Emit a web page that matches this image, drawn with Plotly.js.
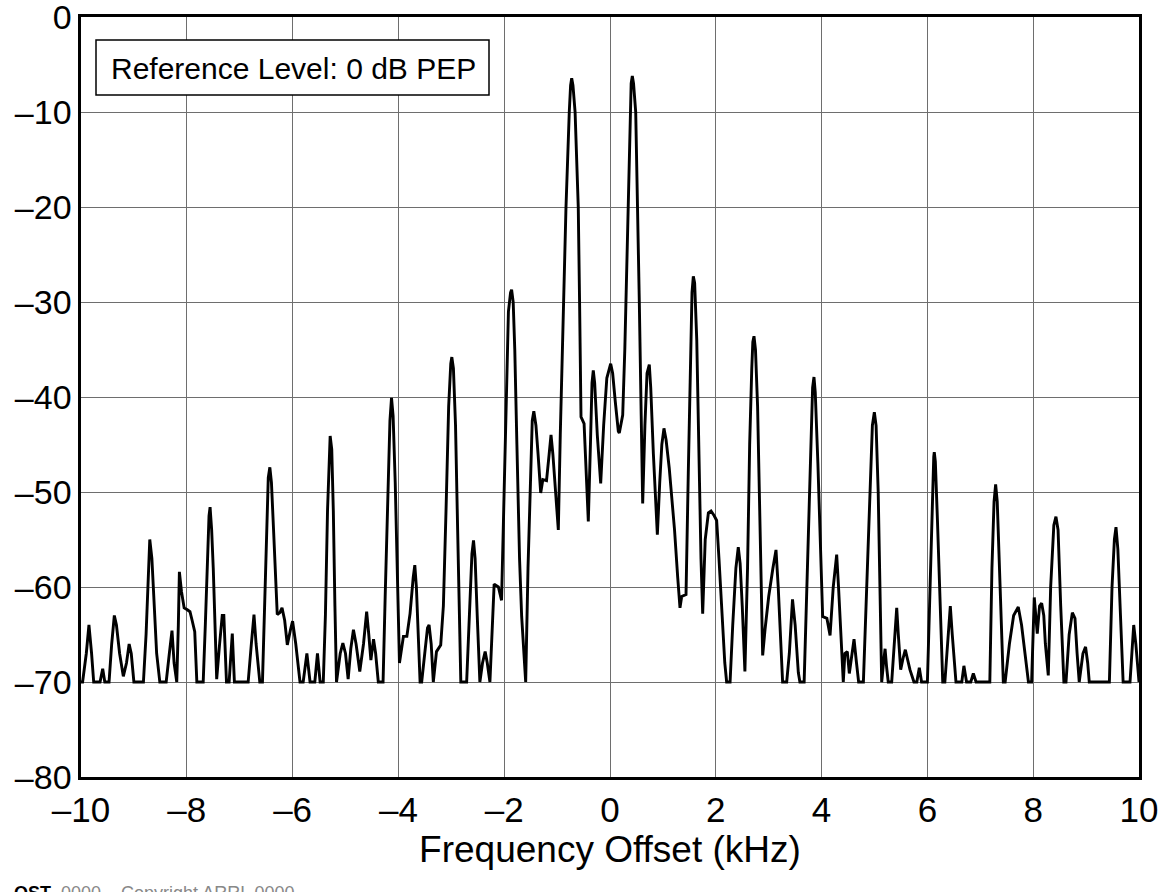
<!DOCTYPE html>
<html>
<head>
<meta charset="utf-8">
<script src="https://cdn.plot.ly/plotly-3.0.1.min.js"></script>
<style>html,body{margin:0;padding:0;background:#fff;}#chart{width:1171px;height:892px;}</style>
</head>
<body>
<div id="chart"></div>
<script>
// Frequency offset (kHz)
const freqKHz = [
-10.0,-9.97,-9.90,-9.85,-9.80,-9.76,-9.64,-9.59,-9.55,-9.47,-9.42,-9.37,-9.33,-9.27,-9.20,-9.14,-9.09,-9.05,-9.00,
-8.82,-8.77,-8.73,-8.70,-8.66,-8.62,-8.57,-8.51,-8.39,-8.33,-8.28,-8.24,-8.19,-8.16,-8.14,-8.10,-8.05,-7.99,-7.94,-7.90,-7.85,-7.81,
-7.69,-7.65,-7.61,-7.58,-7.56,-7.53,-7.50,-7.47,-7.435,-7.38,-7.33,-7.30,-7.27,-7.25,-7.20,-7.14,-7.10,
-6.84,-6.78,-6.73,-6.69,-6.62,-6.57,-6.53,-6.49,-6.46,-6.43,-6.40,-6.36,-6.32,-6.29,-6.24,-6.20,-6.15,-6.10,-6.04,-6.00,-5.94,-5.86,
-5.80,-5.73,-5.67,-5.58,-5.53,-5.48,-5.42,-5.38,-5.34,-5.31,-5.29,-5.26,-5.23,-5.20,-5.17,-5.10,-5.05,-5.00,-4.95,-4.90,-4.85,-4.80,
-4.73,-4.66,-4.60,-4.56,-4.52,-4.47,-4.43,-4.38,-4.29,-4.25,-4.20,-4.16,-4.13,-4.10,-4.06,-4.02,-3.98,-3.94,-3.905,-3.84,-3.78,-3.72,
-3.69,-3.66,-3.62,-3.59,-3.56,-3.50,-3.45,-3.42,-3.38,-3.34,-3.28,-3.20,-3.15,-3.10,-3.05,-3.01,-2.99,-2.96,-2.92,-2.88,-2.84,-2.82,
-2.71,-2.66,-2.61,-2.58,-2.55,-2.51,-2.46,-2.41,-2.36,-2.32,-2.27,-2.19,-2.11,-2.05,-2.00,-1.96,-1.92,-1.88,-1.86,-1.83,-1.80,-1.76,
-1.71,-1.67,-1.594,-1.55,-1.51,-1.47,-1.44,-1.40,-1.36,-1.31,-1.27,-1.20,-1.15,-1.115,-1.08,-1.04,-0.977,-0.94,-0.90,-0.87,-0.832,
-0.77,-0.745,-0.724,-0.70,-0.66,-0.60,-0.575,-0.565,-0.548,-0.49,-0.41,-0.37,-0.34,-0.316,-0.29,-0.24,-0.176,-0.12,-0.06,0.013,0.05,
0.10,0.157,0.176,0.24,0.28,0.302,0.334,0.378,0.40,0.422,0.445,0.486,0.523,0.554,0.59,0.618,0.66,0.70,0.743,0.77,0.82,0.895,0.94,
0.98,1.02,1.06,1.12,1.166,1.22,1.28,1.323,1.355,1.437,1.48,1.52,1.55,1.575,1.60,1.64,1.68,1.72,1.752,1.80,1.86,1.91,1.97,2.016,
2.06,2.12,2.17,2.205,2.27,2.32,2.38,2.425,2.46,2.50,2.55,2.60,2.64,2.68,2.70,2.722,2.75,2.79,2.84,2.886,2.93,3.00,3.08,3.138,3.18,
3.23,3.263,3.34,3.39,3.45,3.50,3.56,3.59,3.67,3.72,3.78,3.83,3.856,3.88,3.93,3.98,4.02,4.10,4.16,4.22,4.285,4.32,4.37,4.41,4.44,
4.486,4.524,4.57,4.613,4.66,4.70,4.79,4.85,4.91,4.96,4.997,5.03,5.07,5.11,5.136,5.17,5.20,5.23,5.26,5.325,5.37,5.42,5.45,5.495,
5.54,5.583,5.62,5.67,5.746,5.80,5.847,5.89,6.00,6.05,6.09,6.12,6.13,6.15,6.19,6.24,6.29,6.33,6.39,6.433,6.47,6.54,6.65,6.69,6.74,
6.82,6.868,6.92,7.18,7.22,7.26,7.29,7.32,7.36,7.40,7.435,7.47,7.55,7.63,7.718,7.78,7.84,7.91,7.97,8.02,8.077,8.12,8.16,8.20,8.23,
8.285,8.33,8.39,8.43,8.47,8.52,8.58,8.62,8.68,8.74,8.79,8.83,8.87,8.94,8.99,9.03,9.06,9.44,9.49,9.535,9.565,9.60,9.65,9.70,9.83,
9.87,9.90,9.94,9.99,10.0
];
// Level relative to PEP (dB)
const levelDb = [
-70,-70,-67,-64,-67,-70,-70,-68.6,-70,-70,-66,-63,-64,-67,-69.4,-68,-66,-67,-70,
-70,-65,-58,-55,-57,-62,-67,-70,-70,-67,-64.6,-68,-70,-64,-58.4,-60.5,-62.2,-62.4,-62.6,-63.5,-64.7,-70,
-70,-64,-56,-52.5,-51.6,-54,-58,-64,-69.7,-66,-63,-63,-67,-70,-70,-64.9,-70,
-70,-66,-62.9,-66,-70,-70,-62,-53,-48.5,-47.4,-49,-54,-60,-62.9,-62.7,-62.2,-63.5,-66.1,-64.5,-63.6,-66,-70,
-70,-67,-70,-70,-67,-70,-70,-63,-52,-45.5,-44.1,-45.5,-52,-62,-70,-67,-65.9,-67,-69.7,-66.5,-64.5,-66,
-68.9,-66,-62.6,-65,-67.7,-65.5,-67,-70,-70,-61,-50,-42.5,-40.1,-42,-49,-60,-68,-66.5,-65.2,-65.2,-62.8,-59,
-57.7,-60,-66,-70,-70,-66.5,-64.3,-64,-66,-70,-66.8,-66.1,-62,-52,-41,-36.5,-35.8,-37,-43,-54,-64,-70,
-70,-63,-56.5,-55.1,-57,-63,-70,-68,-66.8,-68,-70,-59.7,-60,-61.4,-50,-38,-31,-29,-28.7,-30,-35,-45,
-57,-63.1,-70,-58,-49.1,-42.5,-41.5,-43,-46,-50.1,-48.7,-48.8,-46,-44,-46,-49,-54,-44,-35,-30,-20,
-10,-7.2,-6.45,-7.2,-10,-20,-30,-35,-42.1,-42.8,-53.1,-45,-38.5,-37.2,-38.5,-44,-49.1,-43,-38,-36.5,-37.5,
-40.5,-43.6,-43.8,-41.9,-35,-30,-20,-10,-7,-6.2,-7,-10,-20,-30,-42,-51.2,-43,-37.5,-36.6,-39,-46,-54.5,-49,
-45,-43.3,-44.5,-47.5,-50.5,-54,-59,-62.2,-61,-60.8,-48,-35,-29,-27.3,-28,-34,-46,-57,-62.8,-55,-52.2,-52,-52.5,-53,
-57,-63,-68,-70,-70,-64,-58,-55.8,-57.5,-62,-68.9,-58,-45,-37,-34.2,-33.6,-35,-41,-55,-67.2,-64.5,-61,-58,-56.1,-60,
-67,-70,-70,-67,-61.3,-64,-69,-70,-70,-61,-48,-39,-37.9,-39.5,-47,-57,-63.1,-63.3,-65.1,-60,-56.6,-60,-66,-70,-67,
-66.8,-69.1,-67,-65.5,-68,-70,-70,-60,-50,-43,-41.6,-43,-50,-62,-70,-68,-66.5,-68.5,-70,-70,-66,-62.2,-65,-68.7,
-67.5,-66.6,-67.5,-68.7,-70,-70,-68.5,-70,-70,-60,-50,-46.3,-45.8,-46.8,-53,-62,-70,-70,-65,-62,-65,-70,-70,-68.3,-70,
-70,-69.1,-70,-70,-58,-51,-49.2,-51,-58,-65,-70,-70,-66,-63,-62.1,-64,-66.6,-70,-70,-61.1,-64.9,-62,-61.7,-63,-66,
-69.3,-60,-53.5,-52.6,-54,-62,-70,-70,-65,-62.7,-63.3,-67,-70,-67,-66.3,-68,-70,-70,-60,-55,-53.7,-56,-63,-70,-70,
-66,-64,-66,-70,-70
];
const xTicks = [-10,-8,-6,-4,-2,0,2,4,6,8,10];
const yTicks = [-80,-70,-60,-50,-40,-30,-20,-10,0];
const xTitle = 'Frequency Offset (kHz)';
const refLabel = 'Reference Level: 0 dB PEP';
const footer = '<b>QST</b>  <span style="color:#888">0000 – Copyright ARRL 0000</span>';

const font = 'Liberation Sans, Arial, sans-serif';
const fmt = v => v < 0 ? '\u2013' + Math.abs(v) : String(v);
const trace = {
  x: freqKHz, y: levelDb, type: 'scatter', mode: 'lines',
  line: {color: '#000', width: 2.9, shape: 'linear'},
  hoverinfo: 'skip', showlegend: false, cliponaxis: true
};
const layout = {
  width: 1171, height: 892,
  margin: {l: 81, r: 32, t: 17, b: 115},
  paper_bgcolor: '#fff', plot_bgcolor: '#fff',
  font: {family: font, color: '#000', size: 35},
  xaxis: {
    range: [-10, 10], tickvals: xTicks, ticktext: xTicks.map(fmt),
    showgrid: true, gridcolor: '#6e6e6e', gridwidth: 1,
    showline: true, linecolor: '#000', linewidth: 2.6, mirror: true,
    ticks: '', zeroline: false, tickfont: {size: 35}, ticklabeloverflow: 'allow',
    title: {text: xTitle, font: {size: 37}, standoff: 2}
  },
  yaxis: {
    range: [-80, 0], tickvals: yTicks, ticktext: yTicks.map(fmt),
    showgrid: true, gridcolor: '#6e6e6e', gridwidth: 1,
    showline: true, linecolor: '#000', linewidth: 2.6, mirror: true,
    ticks: '', zeroline: false, tickfont: {size: 34}, ticklabeloverflow: 'allow'
  },
  shapes: [{
    type: 'rect', xref: 'paper', yref: 'paper',
    x0: (96 - 81) / 1058, x1: (489 - 81) / 1058,
    y0: (777 - 95) / 760, y1: (777 - 40) / 760,
    line: {color: '#000', width: 1.5}, fillcolor: '#fff', layer: 'above'
  }],
  annotations: [{
    xref: 'paper', yref: 'paper', x: (293 - 81) / 1058, y: (777 - 68) / 760,
    text: refLabel, showarrow: false, font: {size: 30, color: '#000'},
    xanchor: 'center', yanchor: 'middle'
  }, {
    xref: 'paper', yref: 'paper', x: (12 - 81) / 1058, y: (777 - 881) / 760,
    text: footer, showarrow: false, font: {size: 18, color: '#000'},
    xanchor: 'left', yanchor: 'top'
  }]
};
Plotly.newPlot('chart', [trace], layout, {staticPlot: true, displayModeBar: false});
</script>
</body>
</html>
